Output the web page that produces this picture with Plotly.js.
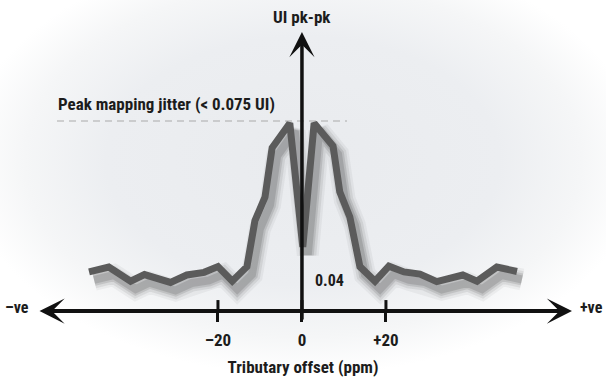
<!DOCTYPE html>
<html><head><meta charset="utf-8">
<script src="https://cdn.plot.ly/plotly-3.0.1.min.js"></script>
<style>
html,body{margin:0;padding:0;background:#fff;}
#chart{width:606px;height:383px;background:radial-gradient(ellipse 56% 56% at 50% 42%, #e9ebee 0%, #eceef1 58%, #f5f6f7 82%, #ffffff 100%);}
</style></head><body>
<div id="chart"></div>
<script>
// ---- data ----
const offsetPpm = [-50.7,-46.0,-40.8,-37.5,-31.3,-27.4,-23.3,-20.0,-16.6,-13.1,-11.2,-8.8,-7.1,-2.9,0.2,2.9,7.4,9.0,11.4,13.8,17.4,20.7,24.3,28.1,32.1,38.3,41.7,46.4,51.2];
const jitterUI  = [0.0407,0.0418,0.0386,0.0401,0.0383,0.0400,0.0406,0.0419,0.0386,0.0419,0.0523,0.0577,0.0689,0.0745,0.0464,0.0745,0.0693,0.0589,0.0532,0.0419,0.0386,0.0420,0.0407,0.0402,0.0385,0.0400,0.0386,0.0418,0.0408];
const tickVals   = [-20, 0, 20];
const tickLabels = ['\u201320', '0', '+20'];
const peakJitter = 0.075;
const floorLevel = 0.04;
const xTitle = 'Tributary offset (ppm)';
const yTitle = 'UI pk-pk';
const peakLabel = 'Peak mapping jitter (< 0.075 UI)';
const floorLabel = '0.04';
const negLabel = '\u2013ve';
const posLabel = '+ve';

// ---- layout geometry ----
const W = 606, H = 383;
const xRange = [-71.9, 72.4];
const yRange = [0.01545, 0.1025];
const xAxisAt = 0.0318;                       // level at which the horizontal axis is drawn
const pxY = (yRange[1] - yRange[0]) / H;      // data units per pixel (y)
const pxX = (xRange[1] - xRange[0]) / W;      // data units per pixel (x)
const axisPos = (xAxisAt - yRange[0]) / (yRange[1] - yRange[0]);
const shadowDx = 5, shadowDy = 8;             // drop-shadow offset in pixels

const FONT = '"Roboto Condensed", "Liberation Sans Narrow", "Arial Narrow", Lato, sans-serif';
const TXT = '#1c1c1c';
const AX = '#111111';

// soft drop shadow: same series drawn on a pixel-offset overlay axis pair, in layered widths
const shadowLayers = [[22, 'rgba(0,0,0,0.045)'], [17, 'rgba(0,0,0,0.07)'], [12, 'rgba(0,0,0,0.10)'], [8, 'rgba(0,0,0,0.12)']];
const traces = shadowLayers.map(([w, c]) => ({
  x: offsetPpm, y: jitterUI, type: 'scatter', mode: 'lines', xaxis: 'x2', yaxis: 'y2',
  line: {color: c, width: w}, hoverinfo: 'skip'
}));
traces.push({
  x: offsetPpm, y: jitterUI, type: 'scatter', mode: 'lines', xaxis: 'x3', yaxis: 'y3',
  line: {color: '#5b5b5b', width: 7}, hoverinfo: 'skip'
});

const shapes = [
  {type: 'line', xref: 'x', yref: 'y', layer: 'below',
   x0: xRange[0] + 57 * pxX, x1: xRange[0] + 347 * pxX, y0: peakJitter, y1: peakJitter,
   line: {color: '#a9a9a9', width: 1.2, dash: '7px,5px'}}
].concat(tickVals.map(v => ({
  type: 'line', xref: 'x', yref: 'y', x0: v, x1: v, y0: xAxisAt, y1: xAxisAt + 11 * pxY,
  line: {color: AX, width: 3}
})));

const annotations = [
  {xref: 'x', yref: 'y', axref: 'x', ayref: 'y',
   x: xRange[0] + 572 * pxX, y: xAxisAt, ax: xRange[0] + 38 * pxX, ay: xAxisAt,
   text: '', showarrow: true, arrowside: 'end+start', arrowhead: 3, startarrowhead: 3,
   arrowsize: 1.05, startarrowsize: 1.05, arrowwidth: 4, arrowcolor: AX},
  {xref: 'x', yref: 'y', axref: 'x', ayref: 'y',
   x: 0, y: yRange[1] - 32 * pxY, ax: 0, ay: xAxisAt - 10 * pxY,
   text: '', showarrow: true, arrowhead: 3, arrowsize: 1.2, arrowwidth: 3.5, arrowcolor: AX},
  {xref: 'x', yref: 'paper', x: 0, y: 1 - 17 / H, xanchor: 'center', yanchor: 'middle',
   text: yTitle, showarrow: false, font: {family: FONT, size: 17, color: TXT, weight: 700}},
  {xref: 'x', yref: 'y', x: xRange[0] + 56 * pxX, y: peakJitter, yshift: 17, xanchor: 'left', yanchor: 'middle',
   text: peakLabel, showarrow: false, font: {family: FONT, size: 17, color: TXT, weight: 700}},
  {xref: 'x', yref: 'y', x: 0, xshift: 11, y: floorLevel, yshift: -6, xanchor: 'left', yanchor: 'middle',
   text: floorLabel, showarrow: false, font: {family: FONT, size: 16, color: TXT, weight: 700}},
  {xref: 'x', yref: 'y', x: xRange[0] + 31 * pxX, y: xAxisAt, yshift: 4, xanchor: 'right', yanchor: 'middle',
   text: negLabel, showarrow: false, font: {family: FONT, size: 16, color: TXT, weight: 700}},
  {xref: 'x', yref: 'y', x: xRange[0] + 578 * pxX, y: xAxisAt, yshift: 4, xanchor: 'left', yanchor: 'middle',
   text: posLabel, showarrow: false, font: {family: FONT, size: 16, color: TXT, weight: 700}}
];

const hidden = {visible: false, showgrid: false, zeroline: false, fixedrange: true};
const layout = {
  width: W, height: H,
  margin: {l: 0, r: 0, t: 0, b: 0, pad: 0},
  paper_bgcolor: 'rgba(0,0,0,0)', plot_bgcolor: 'rgba(0,0,0,0)',
  showlegend: false,
  xaxis: {range: xRange, anchor: 'free', position: axisPos, side: 'bottom',
    showgrid: false, zeroline: false, showline: false, automargin: false,
    tickmode: 'array', tickvals: tickVals, ticktext: tickLabels,
    ticks: 'outside', ticklen: 10, tickwidth: 3, tickcolor: AX, ticklabelstandoff: 4,
    tickfont: {family: FONT, size: 17, color: TXT, weight: 700},
    title: {text: xTitle, standoff: 11, font: {family: FONT, size: 17, color: TXT, weight: 700}},
    fixedrange: true},
  yaxis: Object.assign({range: yRange}, hidden),
  xaxis2: Object.assign({range: [xRange[0] - shadowDx * pxX, xRange[1] - shadowDx * pxX], overlaying: 'x', anchor: 'y2'}, hidden),
  yaxis2: Object.assign({range: [yRange[0] + shadowDy * pxY, yRange[1] + shadowDy * pxY], overlaying: 'y', anchor: 'x2'}, hidden),
  xaxis3: Object.assign({range: xRange, overlaying: 'x', anchor: 'y3'}, hidden),
  yaxis3: Object.assign({range: yRange, overlaying: 'y', anchor: 'x3'}, hidden),
  shapes: shapes, annotations: annotations
};

Plotly.newPlot('chart', traces, layout, {displayModeBar: false, staticPlot: true});
</script></body></html>
